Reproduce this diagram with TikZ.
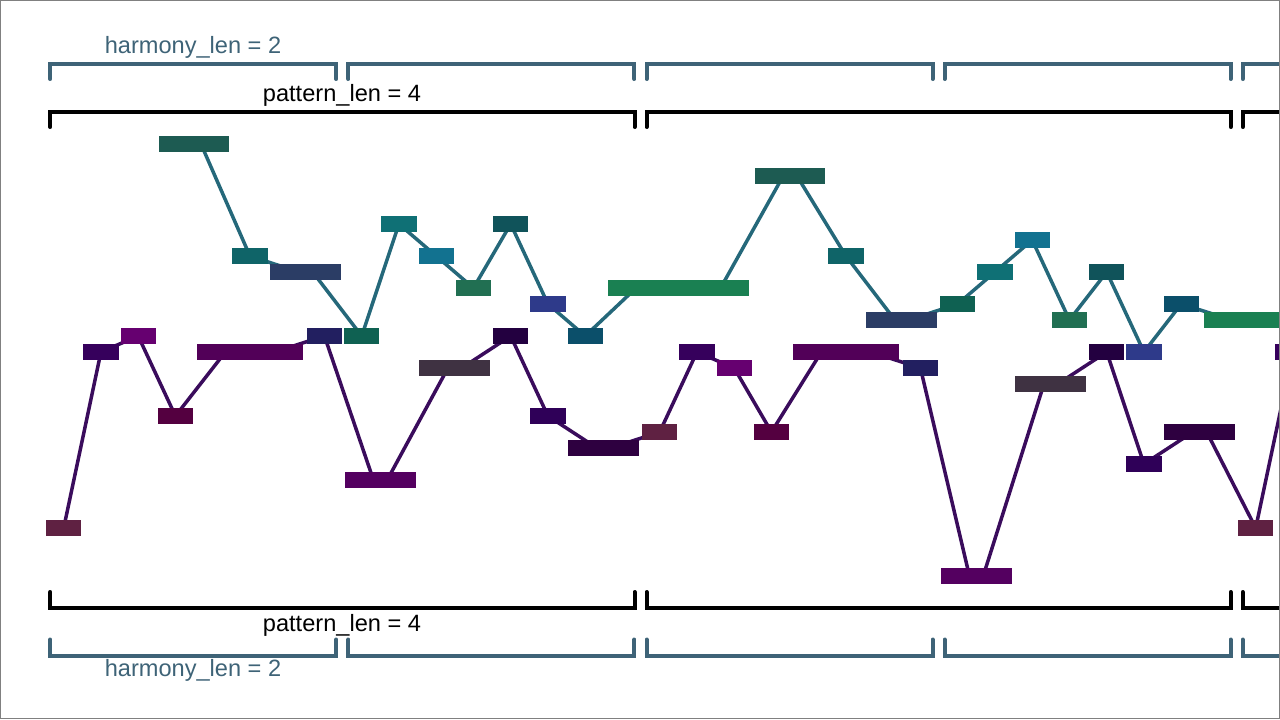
\documentclass[tikz,border=0pt]{standalone}
\usepackage{fontspec}
\setmainfont{Liberation Sans}
\usetikzlibrary{backgrounds}
\definecolor{upA}{HTML}{1D5B52}
\definecolor{upB}{HTML}{0F6468}
\definecolor{upC}{HTML}{2B3D65}
\definecolor{upD}{HTML}{0F6152}
\definecolor{upE}{HTML}{0F7075}
\definecolor{upF}{HTML}{127290}
\definecolor{upG}{HTML}{216F52}
\definecolor{upH}{HTML}{10535A}
\definecolor{upI}{HTML}{2E3A8A}
\definecolor{upJ}{HTML}{0B4F6A}
\definecolor{upK}{HTML}{1A8052}
\definecolor{loA}{HTML}{5F2142}
\definecolor{loB}{HTML}{36005C}
\definecolor{loC}{HTML}{660070}
\definecolor{loD}{HTML}{540040}
\definecolor{loE}{HTML}{520058}
\definecolor{loF}{HTML}{221F60}
\definecolor{loG}{HTML}{540060}
\definecolor{loH}{HTML}{3F3242}
\definecolor{loI}{HTML}{230040}
\definecolor{loJ}{HTML}{2F0058}
\definecolor{loK}{HTML}{2E0040}
\definecolor{uplink}{HTML}{25687A}
\definecolor{lolink}{HTML}{3A0C5C}
\definecolor{harmcol}{HTML}{3E6377}
\begin{document}
\begin{tikzpicture}[x=1pt, y=-1pt,
        note/.style={rectangle, inner sep=0pt, outer sep=0pt, minimum height=16pt},
        upperlink/.style={draw=uplink, line width=3.5pt},
        lowerlink/.style={draw=lolink, line width=3.5pt},
        patbrace/.style={draw=black, line width=4pt, line cap=round},
        harmbrace/.style={draw=harmcol, line width=4pt, line cap=round},
        patlabel/.style={anchor=base, inner sep=0pt, font=\fontsize{23.6}{28}\selectfont},
        harmlabel/.style={patlabel, text=harmcol}]
    \useasboundingbox (0,0) rectangle (1280,720);
    % upper melody
    \foreach \i/\s/\d/\r/\col in {1/3/2/0/upA, 2/5/1/7/upB, 3/6/2/8/upC, 4/8/1/12/upD,
            5/9/1/5/upE, 6/10/1/7/upF, 7/11/1/9/upG, 8/12/1/5/upH, 9/13/1/10/upI,
            10/14/1/12/upJ, 11/15/4/9/upK, 12/19/2/2/upA, 13/21/1/7/upB, 14/22/2/11/upC,
            15/24/1/10/upD, 16/25/1/8/upE, 17/26/1/6/upF, 18/27/1/11/upG, 19/28/1/8/upH,
            20/29/1/13/upI, 21/30/1/10/upJ, 22/31/4/11/upK} {
        \pgfmathsetmacro{\cx}{45.07+(\s+\d/2)*37.25}
        \pgfmathsetmacro{\cy}{144+16*\r}
        \pgfmathsetmacro{\w}{35.39*\d}
        \pgfmathsetmacro{\off}{max(0,\w/2-28.5)}
        \node[note, fill=\col, minimum width=\w pt] (T\i) at (\cx,\cy) {};
        \coordinate (T\i-in) at ([xshift=-\off pt]T\i.center);
        \coordinate (T\i-out) at ([xshift=\off pt]T\i.center);
    }
    % lower melody
    \foreach \i/\s/\d/\r/\col in {1/0/1/24/loA, 2/1/1/13/loB, 3/2/1/12/loC, 4/3/1/17/loD,
            5/4/3/13/loE, 6/7/1/12/loF, 7/8/2/21/loG, 8/10/2/14/loH, 9/12/1/12/loI,
            10/13/1/17/loJ, 11/14/2/19/loK, 12/16/1/18/loA, 13/17/1/13/loB, 14/18/1/14/loC,
            15/19/1/18/loD, 16/20/3/13/loE, 17/23/1/14/loF, 18/24/2/27/loG, 19/26/2/15/loH,
            20/28/1/13/loI, 21/29/1/20/loJ, 22/30/2/18/loK, 23/32/1/24/loA, 24/33/1/13/loB} {
        \pgfmathsetmacro{\cx}{45.07+(\s+\d/2)*37.25}
        \pgfmathsetmacro{\cy}{144+16*\r}
        \pgfmathsetmacro{\w}{35.39*\d}
        \pgfmathsetmacro{\off}{max(0,\w/2-28.5)}
        \node[note, fill=\col, minimum width=\w pt] (B\i) at (\cx,\cy) {};
        \coordinate (B\i-in) at ([xshift=-\off pt]B\i.center);
        \coordinate (B\i-out) at ([xshift=\off pt]B\i.center);
    }
    \begin{scope}[on background layer]
        \foreach \i [evaluate=\i as \j using int(\i+1)] in {1,...,21}
            \draw[upperlink] (T\i-out) -- (T\j-in);
        \foreach \i [evaluate=\i as \j using int(\i+1)] in {1,...,23}
            \draw[lowerlink] (B\i-out) -- (B\j-in);
    \end{scope}
    % brackets
    \foreach \k in {0,1,2} {
        \draw[patbrace] (50.3+596.2*\k,127) -- (50.3+596.2*\k,112) -- (634.5+596.2*\k,112) -- (634.5+596.2*\k,127);
        \draw[patbrace] (50.3+596.2*\k,592) -- (50.3+596.2*\k,607.8) -- (634.5+596.2*\k,607.8) -- (634.5+596.2*\k,592);
    }
    \foreach \k in {0,...,4} {
        \draw[harmbrace] (50.3+298.1*\k,79) -- (50.3+298.1*\k,64.3) -- (336.3+298.1*\k,64.3) -- (336.3+298.1*\k,79);
        \draw[harmbrace] (50.3+298.1*\k,639.5) -- (50.3+298.1*\k,656.2) -- (336.3+298.1*\k,656.2) -- (336.3+298.1*\k,639.5);
    }
    \node[harmlabel] (harmtop) at (193,53) {harmony\_len = 2};
    \node[patlabel] (pattop) at (342,101) {pattern\_len = 4};
    \node[patlabel] (patbot) at (342,631) {pattern\_len = 4};
    \node[harmlabel] (harmbot) at (193,676) {harmony\_len = 2};
    \fill[white] (1279.3,0) rectangle (1285,725);
    \draw[gray, line width=1pt] (0.5,0.5) rectangle (1279.3,718.3);
\end{tikzpicture}
\end{document}
